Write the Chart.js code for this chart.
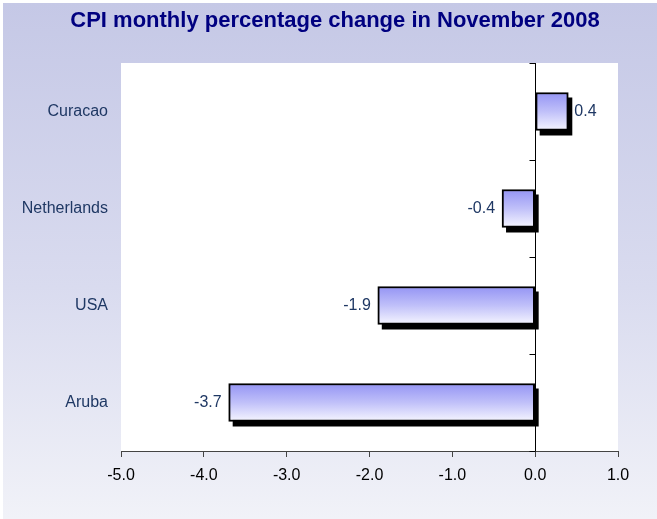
<!DOCTYPE html>
<html>
<head>
<meta charset="utf-8">
<script src="https://cdn.jsdelivr.net/npm/chart.js@4"></script>
<style>
  body { margin: 0; background: #ffffff; }
  #wrap {
    position: absolute; left: 3px; top: 3px; width: 654px; height: 516px;
    background: linear-gradient(to bottom, #c5c8e6 0%, #d9dbef 55%, #f1f2f8 100%);
  }
  #wrap canvas { position: absolute; left: -3px; top: -3px; }
</style>
</head>
<body>
<div id="wrap"><canvas id="cpiChart" width="657" height="519"></canvas></div>
<script>
// Chart data
const categories = ['Curacao', 'Netherlands', 'USA', 'Aruba'];
const cpiChange = [0.4, -0.4, -1.9, -3.7];
const xMin = -5;
const xMax = 1;
const xStep = 1;
const chartTitle = 'CPI monthly percentage change in November 2008';

const labelColor = '#1f3864';
const fontFamily = '"Liberation Sans", Arial, sans-serif';

// white plot area and the title
const plotBackground = {
    id: 'plotBackground',
    beforeDraw(chart) {
        const { ctx, chartArea: a } = chart;
        ctx.save();
        ctx.fillStyle = '#ffffff';
        ctx.fillRect(a.left, a.top, a.right - a.left, a.bottom - a.top);
        ctx.font = 'bold 22px ' + fontFamily;
        ctx.fillStyle = '#000080';
        ctx.textAlign = 'center';
        ctx.textBaseline = 'middle';
        ctx.fillText(chartTitle, 335, 21);
        ctx.restore();
    }
};

// black drop shadow behind each bar
const barShadow = {
    id: 'barShadow',
    beforeDatasetsDraw(chart) {
        const ctx = chart.ctx;
        const meta = chart.getDatasetMeta(0);
        ctx.save();
        ctx.fillStyle = '#000000';
        meta.data.forEach(bar => {
            const p = bar.getProps(['x', 'y', 'base', 'height'], true);
            const left = Math.min(p.x, p.base);
            const right = Math.max(p.x, p.base);
            ctx.fillRect(left + 4, p.y - p.height / 2 + 5, right - left, p.height);
        });
        ctx.restore();
    }
};

// zero line with category ticks, and value labels
const zeroAxisAndLabels = {
    id: 'zeroAxisAndLabels',
    afterDatasetsDraw(chart) {
        const { ctx, chartArea: a, scales } = chart;
        const x0 = Math.round(scales.x.getPixelForValue(0)) + 0.5;
        ctx.save();
        ctx.strokeStyle = '#000000';
        ctx.lineWidth = 1;
        ctx.beginPath();
        ctx.moveTo(x0, a.top);
        ctx.lineTo(x0, a.bottom);
        for (let i = 0; i <= categories.length; i++) {
            const y = Math.round(scales.y.getPixelForValue(i - 0.5)) + 0.5;
            ctx.moveTo(x0 - 6, y);
            ctx.lineTo(x0, y);
        }
        ctx.stroke();

        ctx.font = '16px ' + fontFamily;
        ctx.fillStyle = labelColor;
        ctx.textBaseline = 'middle';
        const meta = chart.getDatasetMeta(0);
        meta.data.forEach((bar, i) => {
            const v = cpiChange[i];
            if (v >= 0) {
                ctx.textAlign = 'left';
                ctx.fillText(v.toFixed(1), bar.x + 6, bar.y);
            } else {
                ctx.textAlign = 'right';
                ctx.fillText(v.toFixed(1), bar.x - 7, bar.y);
            }
        });
        ctx.restore();
    }
};

function barGradient(context) {
    const chart = context.chart;
    if (context.type !== 'data' || !chart.chartArea || !chart.scales.y) return '#b4b4f8';
    const c = chart.scales.y.getPixelForValue(context.dataIndex);
    const g = chart.ctx.createLinearGradient(0, c - 19, 0, c + 19);
    g.addColorStop(0, '#9494f4');
    g.addColorStop(0.5, '#c0c0f9');
    g.addColorStop(1, '#f6f6ff');
    return g;
}

window.onload = function() {
    const ctx = document.getElementById('cpiChart').getContext('2d');
    new Chart(ctx, {
        type: 'bar',
        data: {
            labels: categories,
            datasets: [{
                data: cpiChange,
                backgroundColor: barGradient,
                borderColor: '#000000',
                borderWidth: 2,
                borderSkipped: false,
                barThickness: 38
            }]
        },
        options: {
            indexAxis: 'y',
            responsive: false,
            animation: false,
            layout: { padding: { left: 0, right: 39, top: 63, bottom: 0 } },
            plugins: {
                legend: { display: false },
                tooltip: { enabled: false },
                title: { display: false }
            },
            scales: {
                x: {
                    min: xMin,
                    max: xMax,
                    grid: {
                        drawOnChartArea: false,
                        drawTicks: true,
                        tickLength: 6,
                        color: '#444444'
                    },
                    border: { color: '#444444', width: 1 },
                    ticks: {
                        stepSize: xStep,
                        padding: 9,
                        color: '#000000',
                        font: { family: fontFamily, size: 16 },
                        callback: v => Number(v).toFixed(1)
                    },
                    afterFit: s => { s.height = 68; }
                },
                y: {
                    grid: { display: false },
                    border: { display: false },
                    ticks: {
                        padding: 5,
                        color: labelColor,
                        font: { family: fontFamily, size: 16 }
                    },
                    afterFit: s => { s.width = 121; }
                }
            }
        },
        plugins: [plotBackground, barShadow, zeroAxisAndLabels]
    });
};
</script>
</body>
</html>
